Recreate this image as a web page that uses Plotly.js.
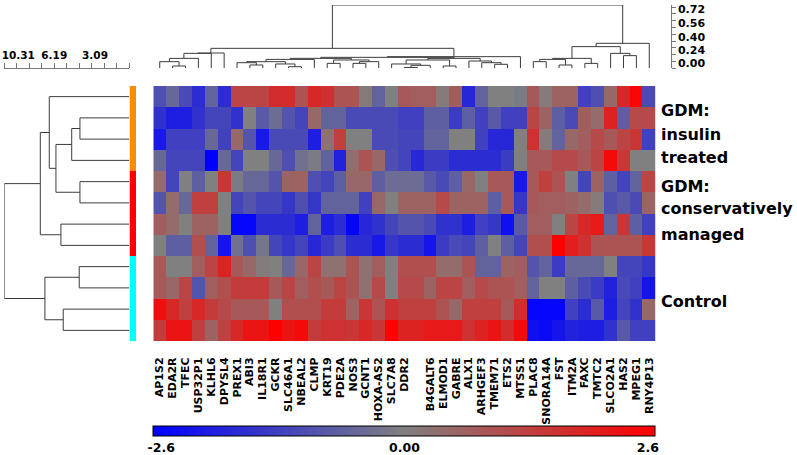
<!DOCTYPE html>
<html><head><meta charset="utf-8">
<script src="https://cdn.plot.ly/plotly-3.0.1.min.js"></script>
<style>html,body{margin:0;padding:0;background:#fff}#chart{width:797px;height:455px}</style>
</head><body><div id="chart"></div>
<script>
// ---- column (gene) labels; column 20 has no label in the original ----
const geneLabels = ['AP1S2','EDA2R','TFEC','USP32P1','KLHL6','DPYSL4','PREX1','ABI3','IL18R1','GCKR','SLC46A1','NBEAL2','CLMP','KRT19','PDE2A','NOS3','GCNT1','HOXA-AS2','SLC7A8','DDR2','','B4GALT6','ELMOD1','GABRE','ALX1','ARHGEF3','TMEM71','ETS2','MTSS1','PLAC8','SNORA14A','FST','ITM2A','FAXC','TMTC2','SLCO2A1','HAS2','MPEG1','RNY4P13'];

// ---- sample rows (z-scores), top to bottom ----
const insulin1 = [-1.0,-0.5,-1.1,-1.7,-0.6,-1.7,1.2,1.2,1.2,1.7,1.7,0.9,1.8, 1.6,0.9,0.9,0.1,-0.6,0,0.8,0.7,0.7,0.1,0.7,-1.8,-0.6, 0,0,-0.1,0.8,0.1,0.6,0.6,-1.3,-1.0,0.5,1.8,2.5,-1.1];
const insulin2 = [-1.6,-2.0,-2.0,-1.6,-1.2,-1.2,-1.6,0,-0.8,-0.4,-0.9,-1.2,0.5, -0.6,-0.6,-1.1,-1.1,-1.1,-1.1,-1.3,-1.3,-0.7,-0.7,-1.4,-0.7,-1.3, -0.8,-1.3,-1.3,1.2,0.6,-0.7,-1.1,0.7,0.4,1.9,-0.7,1.1,1.1];
const insulin3 = [-2.1,-1.3,-1.3,-1.3,-0.5,-1.3,0.5,-0.9,-2.1,-1.1,-1.1,-1.1,-2.0, 0.3,1.3,0,0,-1.1,-1.1,-1.2,-1.2,-0.6,-0.6,0,0,-1.3, -1.8,-1.8,0,1.6,0.1,-0.6,0.5,0.7,1.1,0.8,1.2,1.5,-1.3];
const insulin4 = [-0.5,-1.2,-1.2,-1.2,-2.6,-0.5,-1.2,0,0,-0.5,-1.0,-0.3,-0.1, -0.6,-1.9,0.4,0.9,0.5,-1.0,-1.2,-1.8,-1.4,-1.4,-1.7,-1.7,-1.7, -1.7,-1.4,0,0.8,0.8,1.1,1.1,0.8,1.2,2.4,1.5,0,0];
const conserv1 = [0.4,-1.2,0,-0.7,0,1.5,-0.1,-0.5,-0.5,-0.9,0.6,0.6,-1.0, -1.2,-0.7,0.5,0.5,-0.7,-0.4,-0.4,-0.4,-0.8,-1.1,-0.7,0.5,0, 0.8,0.8,-2.1,0.8,1.3,0.9,0,-1.2,0.6,-0.7,-1.2,-0.6,1.2];
const conserv2 = [-0.9,0.4,-0.5,1.3,1.3,0,-1.2,-0.9,-1.2,-1.2,-1.5,-1.0,-1.5, -0.6,-0.6,-0.6,-1.3,0.5,0,0.6,0.6,0.6,1.1,0.6,0.6,0.6, -0.7,0.8,-1.5,0.8,0.7,0.7,0.6,0.4,0.1,-1.0,-0.8,-1.1,0.6];
const conserv3 = [0.7,0.4,0,0.6,0.6,0,-2.5,-2.5,-1.7,-1.7,-1.7,-2.0,-0.6, -2.0,-1.7,-2.5,-1.8,-1.6,-1.2,-0.9,-0.9,-1.1,-1.6,-1.6,-2.0,-1.3, -1.5,-2.3,-0.8,0.7,0.7,0,1.2,1.8,2.1,-0.6,1.5,-0.7,-1.3];
const conserv4 = [0,-0.7,-0.7,1.0,-0.6,-2.2,-0.3,-1.0,-0.2,-1.2,-1.5,-1.2,-1.8, -1.4,-1.0,-1.7,-1.7,-2.1,-1.5,-1.7,-1.7,-2.2,-1.4,-1.1,-1.2,-0.7, 0,-0.7,-1.2,1.0,1.0,2.6,2.0,1.6,0.9,0.9,0.9,0.9,1.5];
const control1 = [0.8,0,0,0.7,1.2,1.9,0.8,0.5,0.1,0,-0.5,0.5,1.2, 0.3,0.3,0.9,0.3,0.7,0,1.0,1.0,1.0,0.4,0.4,0.9,-0.6, -0.6,0.6,0.7,-0.9,-0.6,-1.4,-0.5,-0.5,-0.5,0,-1.2,-1.2,-1.5];
const control2 = [0.8,0.5,1.2,-0.9,0.7,1.0,1.4,1.4,1.4,0.8,1.2,0.7,1.0, 0.8,1.2,0.9,0.3,1.1,0,1.1,1.1,0.6,1.2,1.2,0.7,1.1, 0.9,0.9,0.7,-0.6,0,0,-0.7,-1.1,-1.4,-1.9,-1.1,-1.3,-2.2];
const control3 = [2.3,1.8,1.3,1.8,1.4,1.1,0.8,0.8,0.8,0,1.0,1.0,1.0, 1.4,1.4,0.6,1.5,0.9,1.6,1.3,1.3,1.3,0.9,0.5,1.3,1.3, 1.3,0.8,1.7,-2.5,-2.5,-2.5,-1.3,-1.7,-0.8,-2.0,-1.2,-1.6,0.5];
const control4 = [1.4,2.2,2.2,1.3,0.6,1.3,1.8,2.2,2.2,2.6,2.2,2.4,1.4, 1.6,1.6,1.5,1.8,1.5,2.6,1.9,1.9,2.1,2.1,2.1,1.6,1.9, 2.2,1.7,2.4,-2.3,-2.4,-2.2,-1.9,-2.0,-2.0,-1.6,-0.8,-1.3,-1.3];

// ---- sample groups ----
const groupOfRow = [0,0,0,0,1,1,1,1,2,2,2,2];
const groupColors = ['rgb(255,140,0)','rgb(255,0,0)','rgb(0,255,255)'];
const groupLabelLines = [['GDM:','insulin','treated'],['GDM:','conservatively','managed'],['Control']];

// ---- row dendrogram (leaves = rows 0..11, new nodes 12..) ----
const rowMergeA = [1, 12, 4, 13, 0, 6, 16, 8, 10, 19, 18];
const rowMergeB = [2, 3, 5, 14, 15, 7, 17, 9, 11, 20, 21];
const rowMergeH = [4.07, 4.75, 4.07, 6.05, 6.60, 5.64, 7.34, 4.13, 5.45, 6.96, 10.31];

// ---- column dendrogram (leaves = columns 0..38, new nodes 39..) ----
const colMergeA = [1,0,40,41,42, 7,6,10,9,45,48, 13,15,51,50,49, 19,55,18,22,57, 26,25,24,59,54,64,43, 29,31,67,33,69,36,35,71,74,66];
const colMergeB = [2,39,3,4,5, 8,44,11,46,47,12, 14,16,17,52,53, 20,21,56,23,58, 27,60,61,62,63,28,65, 30,32,68,34,70,37,72,73,38,75];
const colMergeH = [0.027,0.078,0.117,0.176,0.180, 0.039,0.066,0.019,0.051,0.078,0.105, 0.058,0.058,0.078,0.098,0.117, 0.010,0.035,0.051,0.027,0.098, 0.047,0.066,0.086,0.117,0.129,0.137,0.235, 0.078,0.039,0.105,0.058,0.117,0.149,0.176,0.255,0.294,0.745];

// ---- rulers ----
const rowRulerLabels = ['10.31','6.19','3.09'];
const colRulerLabels = ['0.00','0.24','0.40','0.56','0.72'];

function dendro(nLeaves, A, B, H) {
  const pos = [], ht = [], p = [], h = [];
  for (let i = 0; i < nLeaves; i++) { pos[i] = i; ht[i] = 0; }
  for (let i = 0; i < A.length; i++) {
    const a = A[i], b = B[i], hh = H[i];
    p.push(pos[a], pos[a], pos[b], pos[b], null);
    h.push(ht[a], hh, hh, ht[b], null);
    pos[nLeaves + i] = (pos[a] + pos[b]) / 2; ht[nLeaves + i] = hh;
  }
  return {p, h};
}

const zRows = [insulin1, insulin2, insulin3, insulin4, conserv1, conserv2, conserv3, conserv4, control1, control2, control3, control4];
const colIdx = geneLabels.map((_, i) => i);
const rowIdx = zRows.map((_, i) => i);

const W = 797, Hh = 455;
const px = v => v / W, py = v => 1 - v / Hh;

const colD = dendro(geneLabels.length, colMergeA, colMergeB, colMergeH);
const rowD = dendro(zRows.length, rowMergeA, rowMergeB, rowMergeH);

const lineStyle = {color: '#3c3c3c', width: 1};
const bold = (s) => ({family: 'DejaVu Sans', size: s, color: '#000', weight: 'bold'});

const traces = [
  {type: 'heatmap', z: zRows, x: colIdx, y: rowIdx, xaxis: 'x', yaxis: 'y',
   zmin: -2.6, zmax: 2.6,
   colorscale: [[0, 'rgb(0,0,255)'], [0.5, 'rgb(128,128,128)'], [1, 'rgb(255,0,0)']],
   colorbar: {orientation: 'h', x: px(404.5), xanchor: 'center', y: py(425.5), yanchor: 'top',
     len: 502.4, lenmode: 'pixels', thickness: 10, thicknessmode: 'pixels',
     outlinewidth: 1, outlinecolor: '#000', xpad: 0, ypad: 0,
     tickmode: 'array', tickvals: [-2.52, 0, 2.52], ticktext: ['-2.6', '0.00', '2.6'],
     ticks: '', tickfont: bold(12.5)},
   hoverinfo: 'skip'},
  {type: 'heatmap', z: groupOfRow.map(g => [g]), x: [0], y: rowIdx, xaxis: 'x3', yaxis: 'y',
   zmin: 0, zmax: 2, showscale: false,
   colorscale: [[0, groupColors[0]], [0.333, groupColors[0]], [0.334, groupColors[1]], [0.666, groupColors[1]], [0.667, groupColors[2]], [1, groupColors[2]]],
   hoverinfo: 'skip'},
  {type: 'scatter', mode: 'lines', x: colD.p, y: colD.h, xaxis: 'x', yaxis: 'y5', line: lineStyle, hoverinfo: 'skip', connectgaps: false},
  {type: 'scatter', mode: 'lines', x: rowD.h, y: rowD.p, xaxis: 'x4', yaxis: 'y', line: lineStyle, hoverinfo: 'skip', connectgaps: false}
];

const rowStep = 10.31 / 10, colStep = 0.08;
const rowMinor = [], colMinor = [];
for (let k = 0; k <= 10; k++) rowMinor.push(k * rowStep);
for (let k = 0; k <= 9; k++) colMinor.push(k * colStep);

const annotations = [];
const labelY = [[110.4, 134.4, 157], [186, 208.7, 234.4], [301]];
groupLabelLines.forEach((lines, g) => lines.forEach((t, j) => {
  annotations.push({text: t, xref: 'paper', yref: 'paper', x: px(659), y: py(labelY[g][j]),
    xanchor: 'left', yanchor: 'middle', showarrow: false, font: bold(16)});
}));

const layout = {
  width: W, height: Hh, margin: {l: 0, r: 0, t: 0, b: 0},
  paper_bgcolor: '#fff', plot_bgcolor: 'rgba(0,0,0,0)', showlegend: false,
  font: {family: 'DejaVu Sans', color: '#000'},
  xaxis: {domain: [px(153.3), px(655.7)], range: [-0.5, 38.5], anchor: 'y',
    tickmode: 'array', tickvals: colIdx, ticktext: geneLabels, tickangle: -90,
    ticks: 'outside', ticklen: 11, tickcolor: 'rgba(0,0,0,0)', tickfont: bold(11),
    showgrid: false, zeroline: false, showline: false},
  yaxis: {domain: [py(341), py(86)], range: [11.5, -0.5], showticklabels: false, ticks: '',
    showgrid: false, zeroline: false, showline: false},
  xaxis3: {domain: [px(129.5), px(136)], range: [-0.5, 0.5], anchor: 'y', visible: false},
  xaxis4: {domain: [px(4.3), px(129.3)], range: [10.31, 0], anchor: 'free', position: py(68.3), side: 'top',
    showline: true, linecolor: '#777', linewidth: 1,
    tickmode: 'array', tickvals: [9.16, 6.19, 2.83], ticktext: rowRulerLabels,
    ticks: 'outside', ticklen: 5, tickcolor: 'rgba(0,0,0,0)', tickfont: bold(10.5),
    minor: {tickmode: 'array', tickvals: rowMinor, ticks: 'outside', ticklen: 5, tickcolor: '#777', showgrid: false},
    showgrid: false, zeroline: false},
  yaxis5: {domain: [py(68.3), py(5)], range: [0, 0.745], anchor: 'free', position: px(670.7), side: 'right',
    showline: true, linecolor: '#777', linewidth: 1,
    tickmode: 'array', tickvals: [0.059, 0.216, 0.372, 0.529, 0.698], ticktext: colRulerLabels,
    ticks: 'outside', ticklen: 4, tickcolor: 'rgba(0,0,0,0)', tickfont: bold(11),
    minor: {tickmode: 'array', tickvals: colMinor, ticks: 'outside', ticklen: 4, tickcolor: '#777', showgrid: false},
    showgrid: false, zeroline: false},
  annotations: annotations
};

Plotly.newPlot('chart', traces, layout, {displayModeBar: false, staticPlot: true});
</script>
</body></html>
